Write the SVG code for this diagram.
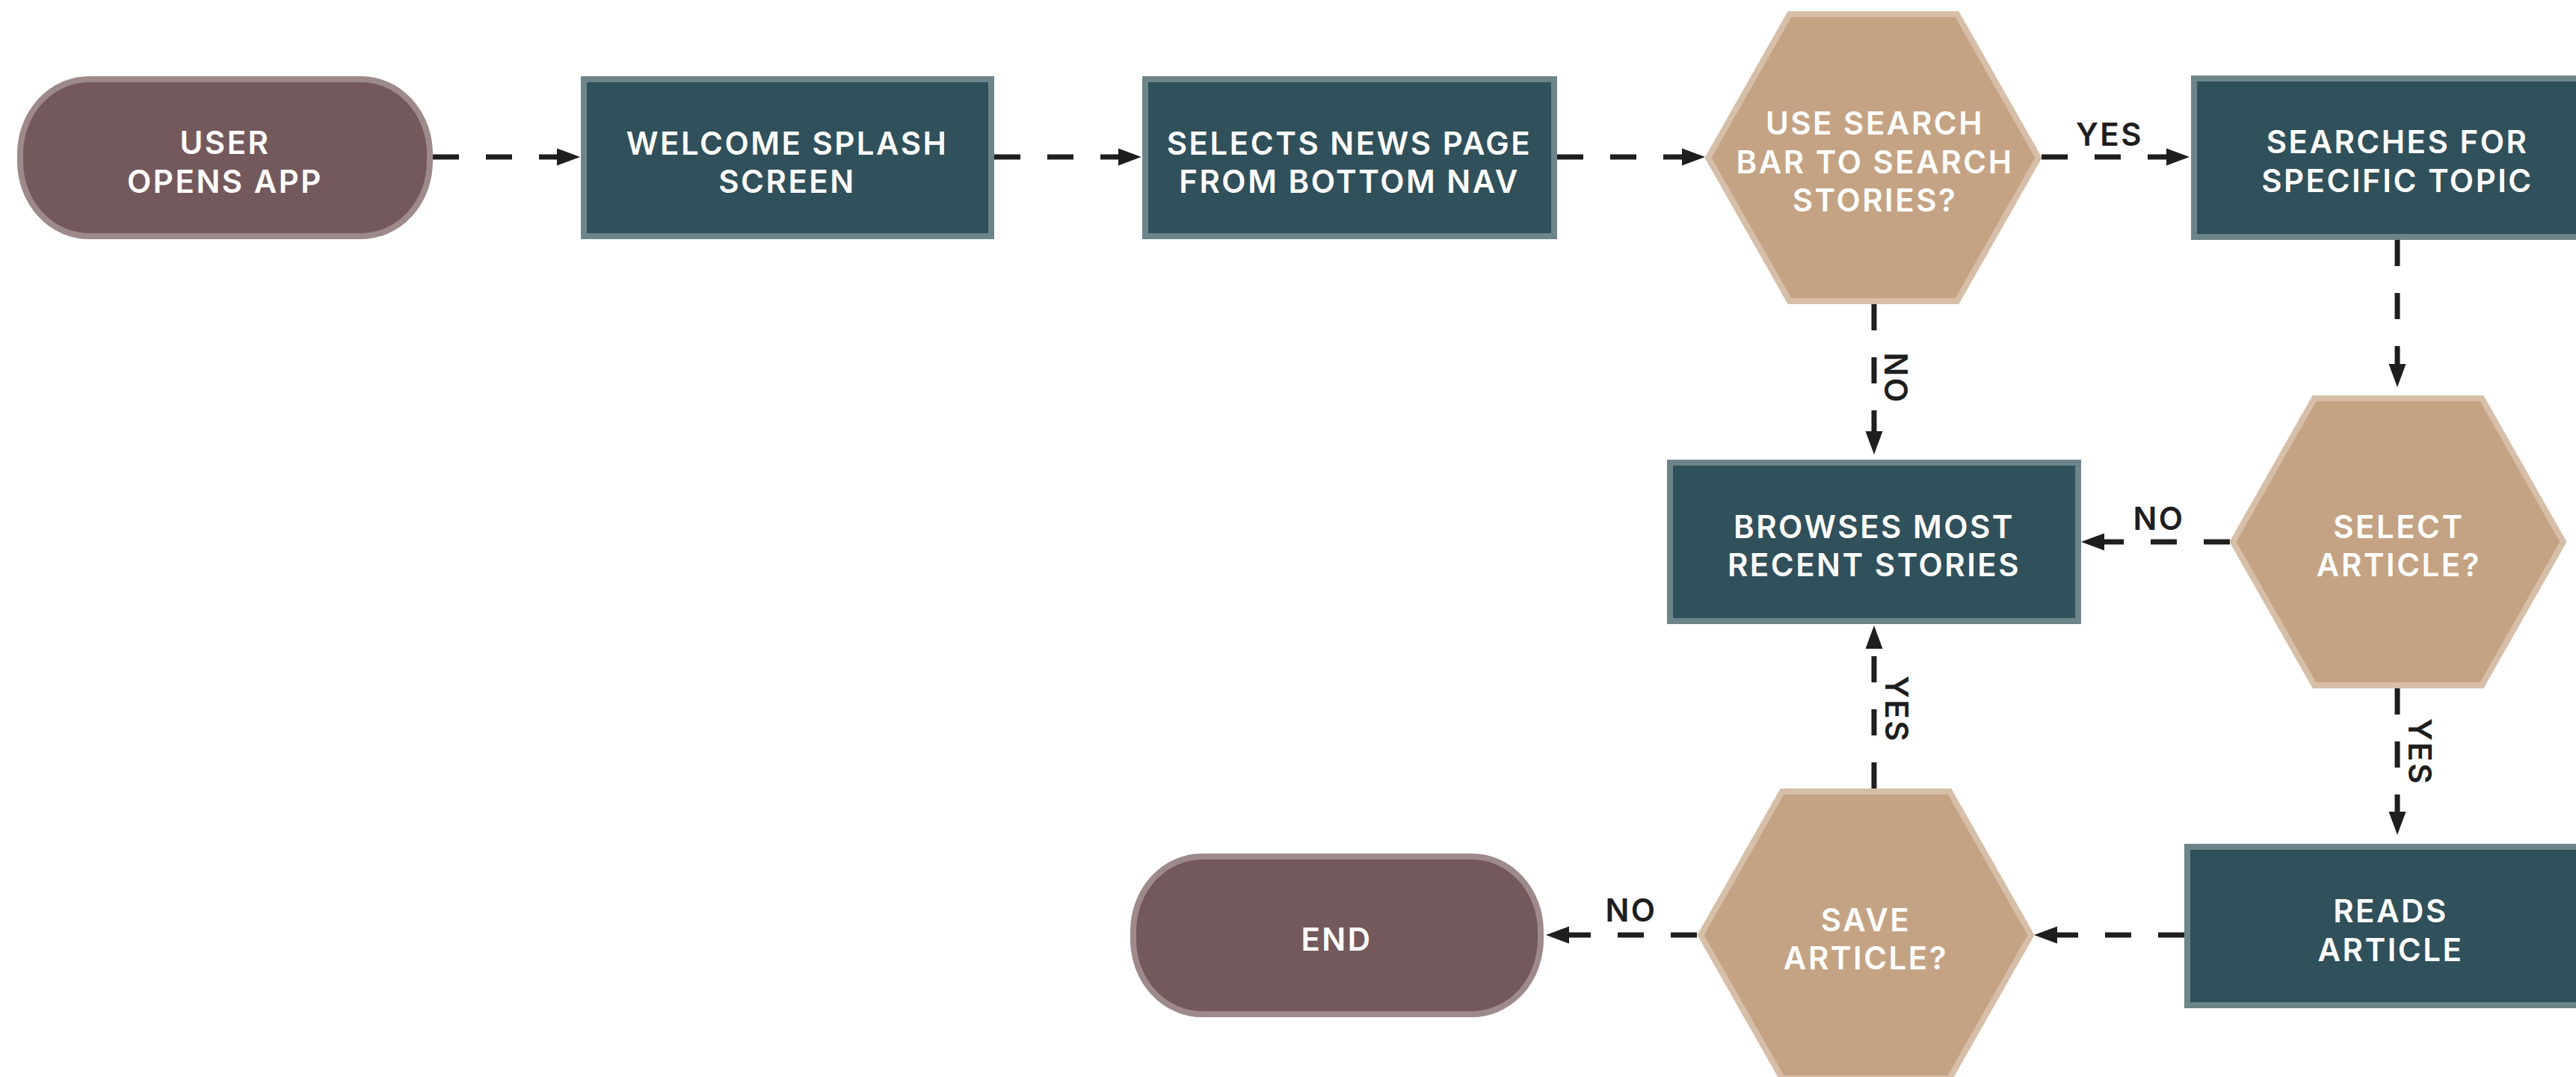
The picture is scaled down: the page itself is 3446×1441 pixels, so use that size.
<svg xmlns="http://www.w3.org/2000/svg" xmlns:xlink="http://www.w3.org/1999/xlink" width="3446" height="1441" viewBox="0 0 3446 1441">
<style>
.box{fill:#30505b;stroke:#6d858a;stroke-width:8}
.term{fill:#74595c;stroke:#9e8a8b;stroke-width:8}
.dec{fill:#c4a384;stroke:#d7bea8;stroke-width:8}
.nt{font-family:Inter,"Liberation Sans",sans-serif;font-weight:600;font-size:42px;letter-spacing:2.5px;fill:#ffffff;text-anchor:middle}
.lb{font-family:Inter,"Liberation Sans",sans-serif;font-weight:600;font-size:42px;letter-spacing:2.5px;fill:#1e1e1e;text-anchor:middle}
.cn{fill:none;stroke:#1e1e1e;stroke-width:7;stroke-dasharray:35 36;marker-end:url(#ah)}
</style>
<defs>
<marker id="ah" markerUnits="userSpaceOnUse" markerWidth="32" markerHeight="24" refX="0" refY="12" orient="auto">
<path d="M0,0.5 L31,12 L0,23.5 Z" fill="#1e1e1e"/>
</marker>
<polygon id="hex" points="-112,-192 112,-192 221,0 112,192 -112,192 -221,0"/>
</defs>
<rect width="3446" height="1441" fill="#ffffff"/>

<g id="connectors">
<path class="cn" d="M579,210 H745"/>
<path class="cn" d="M1330,210 H1496"/>
<path class="cn" d="M2083,210 H2250"/>
<path class="cn" d="M2731,210 H2898"/>
<path class="cn" d="M2507,407 V577"/>
<path class="cn" d="M3207,321 V487"/>
<path class="cn" d="M2983,725 H2815"/>
<path class="cn" d="M3207,921 V1086"/>
<path class="cn" d="M2922,1251 H2752"/>
<path class="cn" d="M2507,1055 V868"/>
<path class="cn" d="M2270,1251 H2099"/>
<text class="lb" x="2822" y="195">YES</text>
<text class="lb" transform="translate(2521,506) rotate(90)" y="0">NO</text>
<text class="lb" x="2888" y="709">NO</text>
<text class="lb" transform="translate(3222,1006) rotate(90)" y="0">YES</text>
<text class="lb" transform="translate(2522,949) rotate(90)" y="0">YES</text>
<text class="lb" x="2182" y="1233">NO</text>
</g>

<g id="user-opens-app">
<rect class="term" x="27" y="106" width="548" height="210" rx="92" ry="100"/>
<text class="nt"><tspan x="301" y="206">USER</tspan><tspan x="301" y="258">OPENS APP</tspan></text>
</g>

<g id="welcome-splash">
<rect class="box" x="781" y="106" width="545" height="210"/>
<text class="nt"><tspan x="1053" y="207">WELCOME SPLASH</tspan><tspan x="1053" y="258">SCREEN</tspan></text>
</g>

<g id="selects-news">
<rect class="box" x="1532" y="106" width="547" height="210"/>
<text class="nt"><tspan x="1805" y="207">SELECTS NEWS PAGE</tspan><tspan x="1805" y="258">FROM BOTTOM NAV</tspan></text>
</g>

<g id="use-search">
<use xlink:href="#hex" class="dec" x="2506" y="211"/>
<text class="nt"><tspan x="2508" y="180">USE SEARCH</tspan><tspan x="2508" y="232">BAR TO SEARCH</tspan><tspan x="2508" y="283">STORIES?</tspan></text>
</g>

<g id="searches-topic">
<rect class="box" x="2935" y="105" width="547" height="212"/>
<text class="nt"><tspan x="3207" y="205">SEARCHES FOR</tspan><tspan x="3207" y="257">SPECIFIC TOPIC</tspan></text>
</g>

<g id="browses-recent">
<rect class="box" x="2234" y="619" width="546" height="212"/>
<text class="nt"><tspan x="2507" y="720">BROWSES MOST</tspan><tspan x="2507" y="771">RECENT STORIES</tspan></text>
</g>

<g id="select-article">
<use xlink:href="#hex" class="dec" x="3208" y="725"/>
<text class="nt"><tspan x="3209" y="720">SELECT</tspan><tspan x="3209" y="771">ARTICLE?</tspan></text>
</g>

<g id="reads-article">
<rect class="box" x="2926" y="1133" width="547" height="212"/>
<text class="nt"><tspan x="3198" y="1234">READS</tspan><tspan x="3198" y="1286">ARTICLE</tspan></text>
</g>

<g id="save-article">
<use xlink:href="#hex" class="dec" x="2496" y="1251"/>
<text class="nt"><tspan x="2496" y="1246">SAVE</tspan><tspan x="2496" y="1297">ARTICLE?</tspan></text>
</g>

<g id="end">
<rect class="term" x="1516" y="1146" width="545" height="211" rx="92" ry="100"/>
<text class="nt"><tspan x="1788" y="1272">END</tspan></text>
</g>
</svg>
